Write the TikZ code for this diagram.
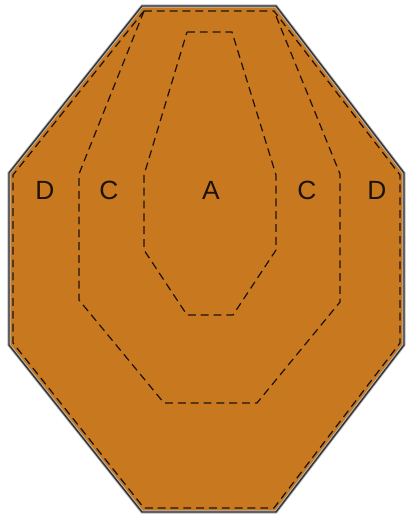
\documentclass[tikz,border=0pt]{standalone}
\usepackage{fontspec}
\setmainfont{Liberation Sans}
\usetikzlibrary{calc}
\definecolor{woodtan}{HTML}{C8791F}
\definecolor{zoneink}{HTML}{1E1208}
\tikzset{
  zoneline/.style={zoneink, line width=0.7pt, dash pattern=on 4.5pt off 2.8pt},
  zonelabel/.style={font=\fontsize{15}{17}\selectfont, text=zoneink, inner sep=0pt}
}
\begin{document}
\begin{tikzpicture}[x=0.02cm, y=-0.02cm]
  \useasboundingbox (0,0) rectangle (406,517);
  % target plate
  \fill[woodtan] (142,6) -- (276,6) -- (404,173) -- (404,345) -- (276,512) -- (142,512) -- (9,345) -- (9,173) -- cycle;
  \draw[gray!55, line width=1.8pt] (142,6) -- (276,6) -- (404,173) -- (404,345) -- (276,512) -- (142,512) -- (9,345) -- (9,173) -- cycle;
  \draw[black!80, line width=0.8pt] (142,6) -- (276,6) -- (404,173) -- (404,345) -- (276,512) -- (142,512) -- (9,345) -- (9,173) -- cycle;
  % zone D
  \draw[zoneline] (144,11) -- (274,11) -- (400,175) -- (400,343) -- (274,508) -- (144,508) -- (13,343) -- (13,175) -- cycle;
  % zone C
  \draw[zoneline] (144,11) -- (79,174) -- (79,300) -- (164,403) -- (257,403) -- (340,302) -- (340,174) -- (274,11);
  % zone A
  \draw[zoneline] (187,32) -- (232,32) -- (276,175) -- (276,250) -- (233,315) -- (187,315) -- (144,250) -- (144,175) -- cycle;
  \node[zonelabel] (dleft) at (45,190) {D};
  \node[zonelabel] (cleft) at (109,190) {C};
  \node[zonelabel] (azone) at (211,190) {A};
  \node[zonelabel] (cright) at (307,190) {C};
  \node[zonelabel] (dright) at (377,190) {D};
\end{tikzpicture}
\end{document}
